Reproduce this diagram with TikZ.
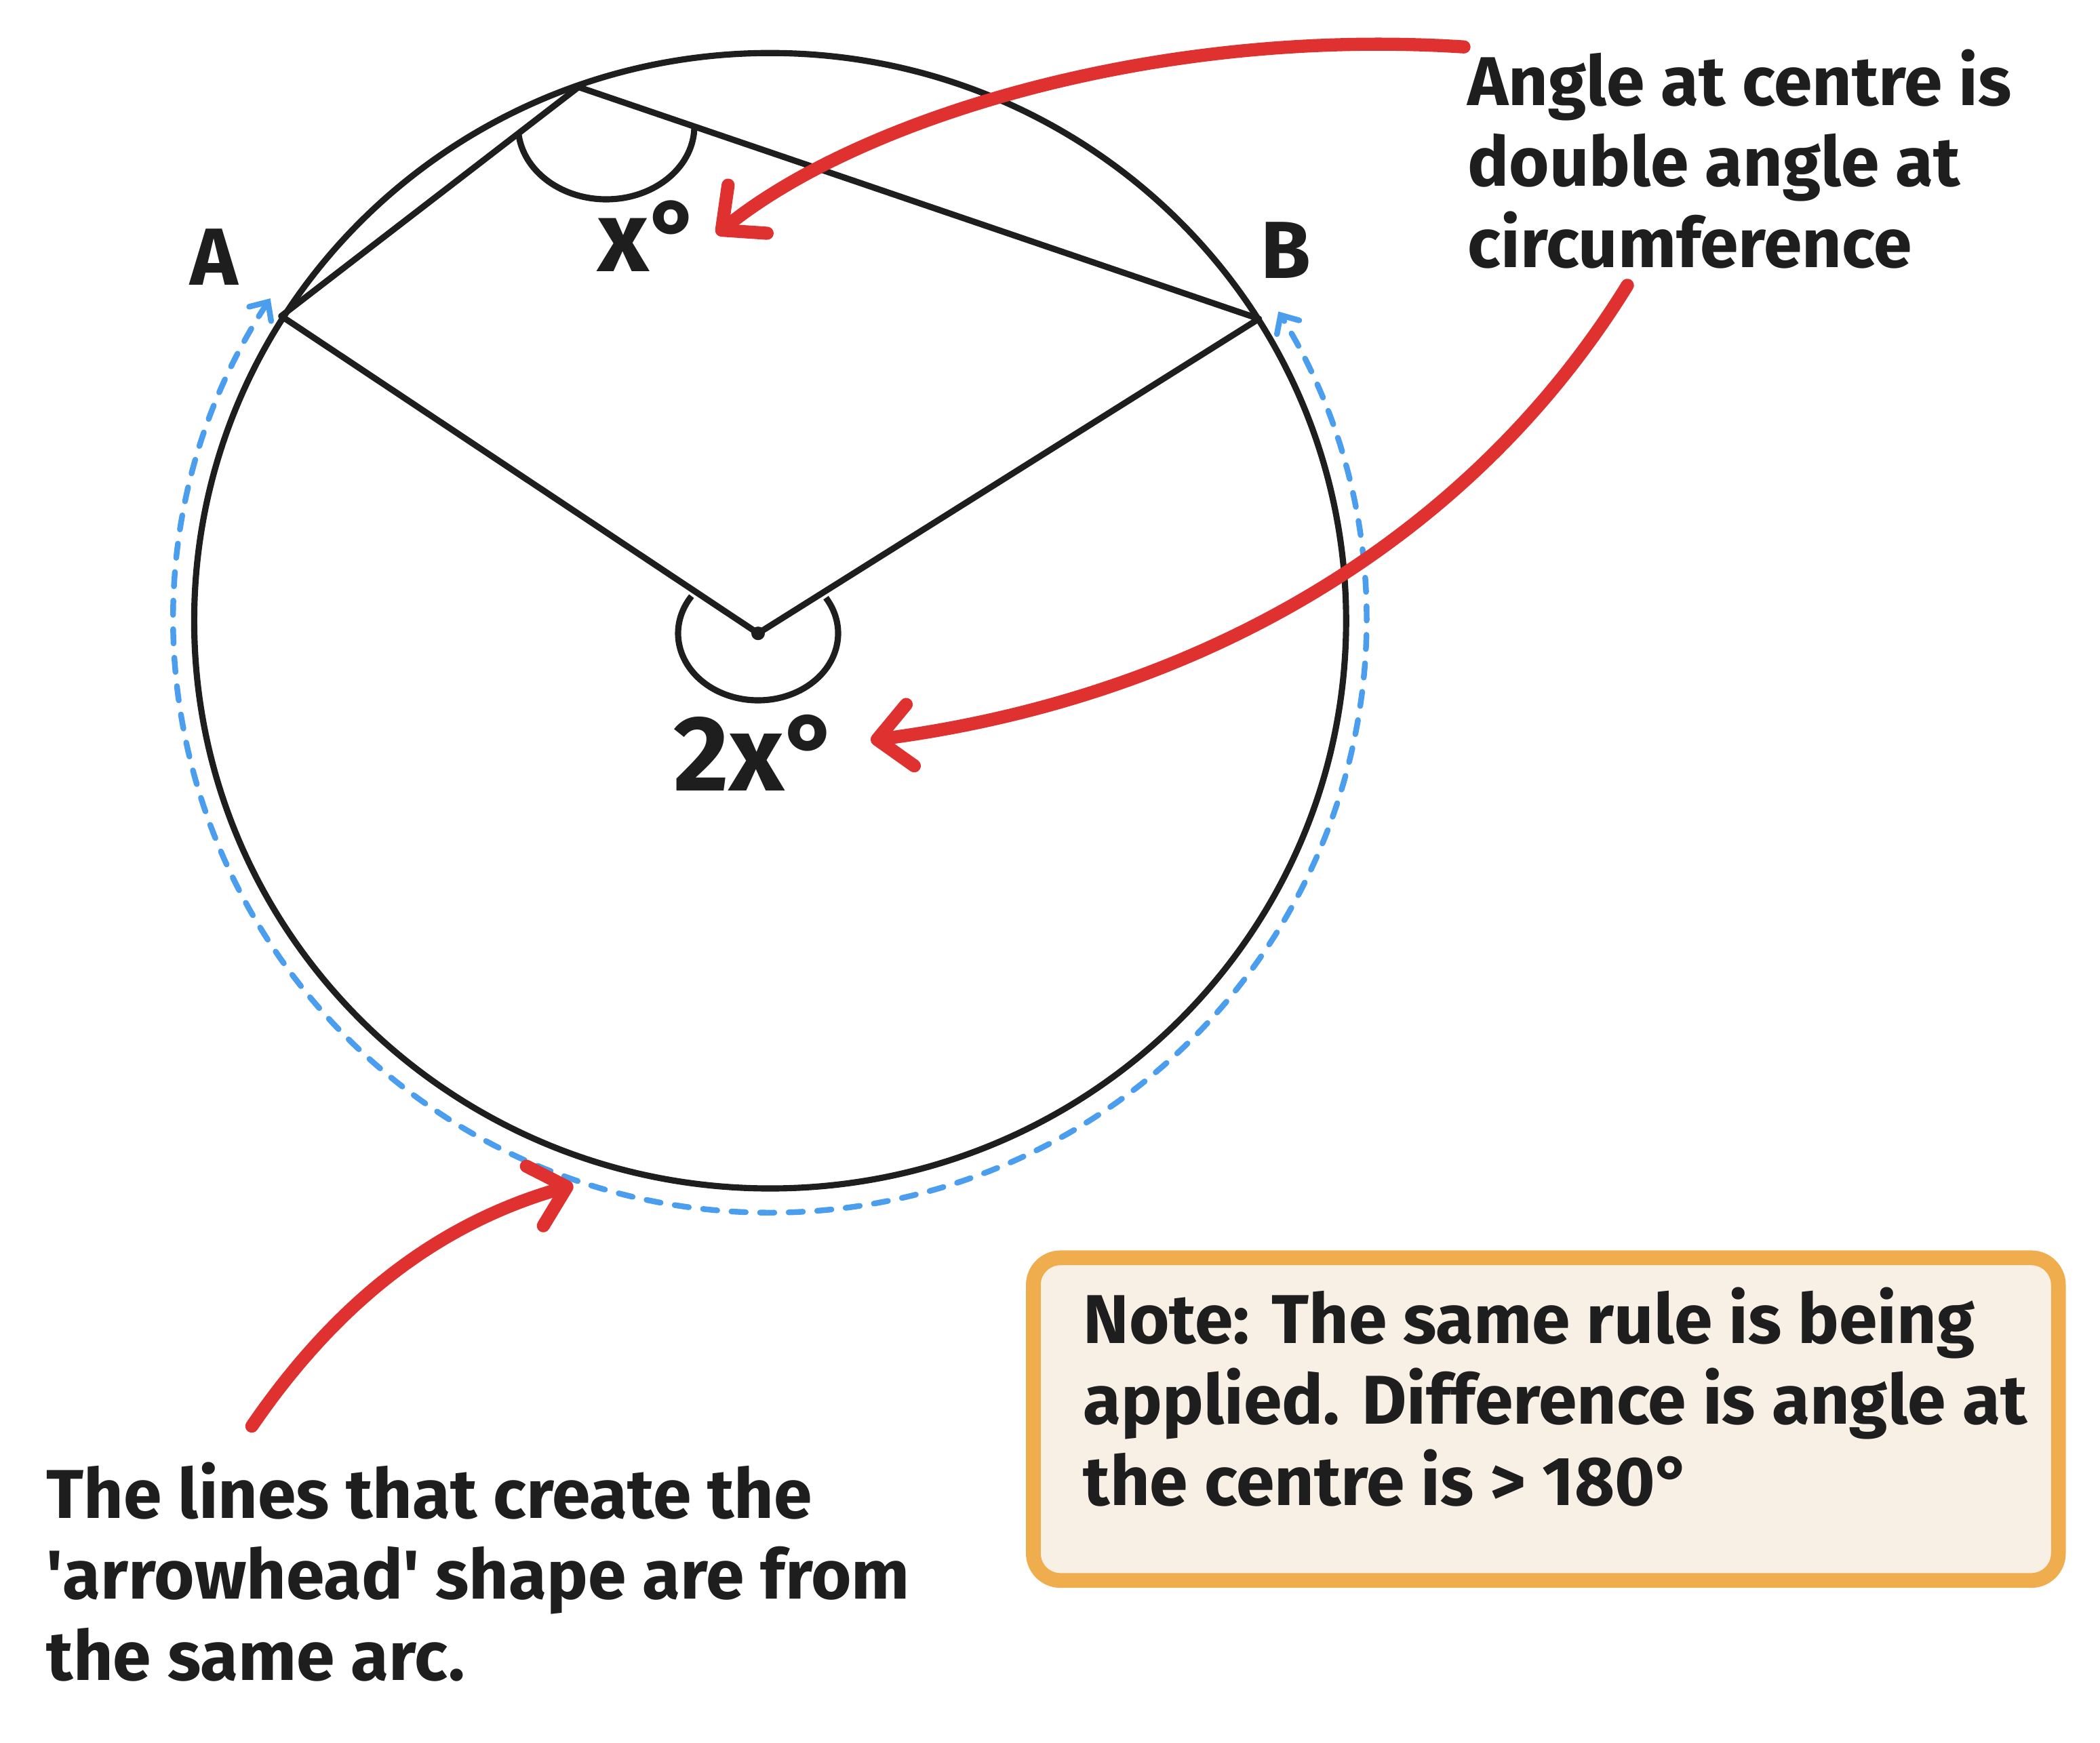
\documentclass[tikz,border=0pt]{standalone}
\usepackage{fontspec}
\setmainfont{Fira Sans}
\usetikzlibrary{arrows.meta}
\definecolor{inkblack}{HTML}{1E1E1E}
\definecolor{penred}{HTML}{E03131}
\definecolor{penblue}{HTML}{4A9EED}
\definecolor{noteorange}{HTML}{F0AD4E}
\definecolor{notefill}{HTML}{F8F0E5}
\begin{document}
\begin{tikzpicture}
[x=0.02cm, y=-0.02cm,
  linedecorate/.style={draw=inkblack,line width=2.6pt,line join=round},%
  arrowdecorate/.style={draw=penred,line width=5.5pt,line cap=round,
    -{Straight Barb[length=14pt,width=26pt,line cap=round,line join=round]}},%
  arcdecorate/.style={draw=penblue,line width=2.4pt,line cap=round,dash pattern=on 6pt off 6pt,
    {Straight Barb[length=6pt,width=11pt,line cap=round]}-{Straight Barb[length=6pt,width=11pt,line cap=round]}},%
  textdecorate/.style={font=\bfseries\fontsize{29}{34}\selectfont,text=inkblack,
    align=left,inner sep=0pt,anchor=base west},%
  labeldecorate/.style={font=\bfseries\fontsize{34}{40}\selectfont,text=inkblack,inner sep=0pt},%
  notedecorate/.style={draw=noteorange,fill=notefill,line width=6.2pt,rounded corners=0.4cm,
    anchor=north west,minimum width=15.12cm,minimum height=4.76cm}]
\useasboundingbox (0,0) rectangle (1548.5,1285);
%% points of the figure
\foreach \nodename/\x/\y in {
  M/567.9/457.8, A/207.4/233.1, B/928.3/235.1, C/426.6/64.2, O/559/467.1, Carc/447/93} {
  \coordinate (\nodename) at (\x,\y);
}
%% circle and lines
\draw[arcdecorate] ([shift={(213:439.5 and 436.5)}]M) arc[start angle=213,end angle=-31.5,x radius=439.5,y radius=436.5];
\draw[linedecorate] (M) ellipse [x radius=424.7,y radius=418.7];
\draw[linedecorate] (A) -- (C) -- (B) -- (O) -- cycle;
\draw[linedecorate] ([shift={(2:65 and 54)}]Carc) arc[start angle=2,end angle=174,x radius=65,y radius=54];
\draw[linedecorate] ([shift={(-32.1:59 and 49.4)}]O) arc[start angle=-32.1,end angle=213.7,x radius=59,y radius=49.4];
\fill[inkblack] (O) circle[radius=5];
%% labels
\node (labelA) [labeldecorate] at (158,189.6) {A};
\node (labelB) [labeldecorate] at (948,184.7) {B};
\node (labelx) [labeldecorate,font=\bfseries\fontsize{42}{48}\selectfont] at (479,173.8) {x°};
\node (label2x) [labeldecorate,font=\bfseries\fontsize{45}{52}\selectfont] at (558,555) {2x°};
%% notes
\node (angletext) [textdecorate] at (1082,197) {Angle at centre is\\double angle at\\circumference};
\node (linestext) [textdecorate] at (34,1239) {The lines that create the\\\textquotesingle arrowhead\textquotesingle\ shape are from\\the same arc.};
\node (notebox) [notedecorate] at (756.5,922.2) {};
\node (notetext) [textdecorate] at (798.5,1110) {Note: The same rule is being\\applied. Difference is angle at\\the centre is > 180°};
%% red arrows
\foreach \nodename/\x/\y in {
  tailx/1079.5/34.6, tipx/528.4/172.8, tailtwo/1200/210.4, tiptwo/642/546, tailarc/185.7/1051.8, tiparc/422.7/874} {
  \coordinate (\nodename) at (\x,\y);
}
\draw[arrowdecorate] (tailx) .. controls (849,19.75) and (632,88.9) .. (tipx);
\draw[arrowdecorate] (tailtwo) .. controls (1086,395) and (889,513.6) .. (tiptwo);
\draw[arrowdecorate] (tailarc) .. controls (256.8,948) and (335.8,898.7) .. (tiparc);
\end{tikzpicture}
\end{document}
